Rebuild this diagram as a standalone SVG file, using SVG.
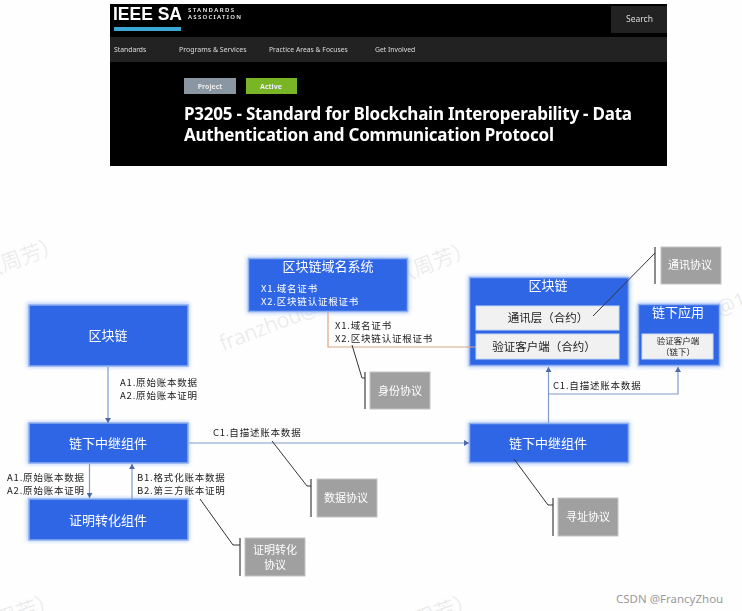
<svg xmlns="http://www.w3.org/2000/svg" width="742" height="611" viewBox="0 0 742 611">
<defs>
<filter id="glow" x="-15%" y="-30%" width="130%" height="160%"><feGaussianBlur stdDeviation="2"/></filter>
<filter id="soft" x="-5%" y="-5%" width="110%" height="110%"><feGaussianBlur stdDeviation="0.4"/></filter>
<marker id="arr" markerWidth="6" markerHeight="6" refX="5" refY="3" orient="auto" markerUnits="userSpaceOnUse"><path d="M0,0 L5,3 L0,6 Z" fill="#4a6ba8"/></marker>
</defs>
<style>
text{font-family:"Noto Sans CJK SC","Noto Sans",sans-serif}
.hd{font-family:"Noto Sans",sans-serif}
.wm{fill:#e8e8e8;font-size:21px;font-weight:300;font-family:"Noto Sans","Noto Sans CJK SC",sans-serif}
.b{fill:#2f66e6;stroke:#8fb0ee;stroke-width:1.5}
.gl{fill:#6f9cf5;opacity:.55}
.t{fill:#fff;text-anchor:middle;font-size:13px}
.i{fill:#f1f1f1;stroke:#c9d8f5;stroke-width:1}
.it{fill:#222;text-anchor:middle;font-size:11.5px}
.g{fill:#a0a0a0;stroke:#c4c4c4;stroke-width:1}
.gt{fill:#fff;text-anchor:middle;font-size:11px}
.l{fill:#222;font-size:9.5px;letter-spacing:.8px}
.c{fill:none;stroke:#7f9bcb;stroke-width:1.2}
.p{fill:none;stroke:#333;stroke-width:1}
.bar{fill:none;stroke:#666;stroke-width:1.5}
.s{filter:url(#soft)}
</style>
<rect width="742" height="611" fill="#fefefe"/>
<g id="watermarks">
<text class="wm" transform="translate(-16,279) rotate(-20)">（周芳）</text>
<text class="wm" transform="translate(223,351) rotate(-21)">franzhou@163.com（周芳）</text>
<text class="wm" transform="translate(640,347) rotate(-21)">franzhou@1</text>
<text class="wm" transform="translate(-20,635) rotate(-20)">（周芳）</text>
<text class="wm" transform="translate(398,635) rotate(-20)">（周芳）</text>
</g>
<g id="header" class="s">
<rect x="110" y="4" width="557" height="162" fill="#000"/>
<text x="113" y="20" font-size="18" font-weight="700" fill="#fff" textLength="69" lengthAdjust="spacingAndGlyphs" style="font-family:'Liberation Sans',sans-serif">IEEE SA</text>
<text class="hd" x="188" y="12" font-size="6" font-weight="600" fill="#eee" textLength="46">STANDARDS</text>
<text class="hd" x="188" y="19" font-size="6" font-weight="600" fill="#eee" textLength="53">ASSOCIATION</text>
<rect x="114" y="27" width="67" height="4" fill="#3aa8d4"/>
<rect x="611" y="6" width="56" height="27" fill="#222"/>
<text class="hd" x="626" y="22" font-size="8.5" fill="#ddd">Search</text>
<rect x="110" y="37" width="557" height="25" fill="#222"/>
<text class="hd" x="114" y="52" font-size="6.800" fill="#ddd">Standards</text>
<text class="hd" x="179" y="52" font-size="7" fill="#ddd">Programs &amp; Services</text>
<text class="hd" x="269" y="52" font-size="6.800" fill="#ddd">Practice Areas &amp; Focuses</text>
<text class="hd" x="375" y="52" font-size="6.800" fill="#ddd">Get Involved</text>
<rect x="184" y="78" width="52" height="16" fill="#8a97a3"/>
<rect x="246" y="78" width="51" height="16" fill="#7ab527"/>
<text class="hd" x="210" y="89" font-size="7" font-weight="700" fill="#e8e8e8" text-anchor="middle">Project</text>
<text class="hd" x="271" y="89" font-size="7" font-weight="700" fill="#eef" text-anchor="middle">Active</text>
<text class="hd" x="184" y="120" font-size="17" font-weight="700" fill="#fff" textLength="448">P3205 - Standard for Blockchain Interoperability - Data</text>
<text class="hd" x="184" y="141" font-size="17" font-weight="700" fill="#fff" textLength="370">Authentication and Communication Protocol</text>
</g>
<g id="n-chain" class="s">
<rect class="gl" x="27" y="303" width="162" height="64" filter="url(#glow)"/>
<rect class="b" x="29" y="305" width="159" height="61"/>
<text class="t" x="108" y="340">区块链</text>
</g>
<g id="n-relay-left" class="s">
<rect class="gl" x="27" y="422" width="162" height="42" filter="url(#glow)"/>
<rect class="b" x="29" y="423" width="159" height="40"/>
<text class="t" x="108" y="448">链下中继组件</text>
</g>
<g id="n-proof" class="s">
<rect class="gl" x="27" y="498" width="162" height="43" filter="url(#glow)"/>
<rect class="b" x="29" y="499" width="159" height="41"/>
<text class="t" x="108" y="525">证明转化组件</text>
</g>
<g id="n-dns" class="s">
<rect class="gl" x="247" y="257" width="162" height="56" filter="url(#glow)"/>
<rect class="b" x="248.500" y="258.500" width="159" height="53"/>
<text class="t" x="328" y="271">区块链域名系统</text>
<text x="261" y="292" font-size="9.500" fill="#fff" letter-spacing=".8">X1.域名证书</text>
<text x="261" y="305" font-size="9.500" fill="#fff" letter-spacing=".8">X2.区块链认证根证书</text>
</g>
<g id="n-chain-right" class="s">
<rect class="gl" x="468" y="276" width="162" height="91" filter="url(#glow)"/>
<rect class="b" x="469.500" y="277.500" width="159" height="88"/>
<text class="t" x="548" y="290">区块链</text>
<rect class="i" x="476" y="306" width="143" height="24"/>
<text class="it" x="548" y="322">通讯层（合约）</text>
<rect class="i" x="476" y="334" width="143" height="25"/>
<text class="it" x="544" y="351">验证客户端（合约）</text>
</g>
<g id="n-offchain-app" class="s">
<rect class="gl" x="637" y="303" width="84" height="64" filter="url(#glow)"/>
<rect class="b" x="638.500" y="304.500" width="81" height="61"/>
<text class="t" x="678" y="317">链下应用</text>
<rect class="i" x="642" y="334" width="71" height="25"/>
<text class="it" style="font-size:8.500px" x="678" y="344">验证客户端</text>
<text class="it" style="font-size:8.500px" x="678" y="355">（链下）</text>
</g>
<g id="n-relay-right" class="s">
<rect class="gl" x="468" y="422" width="162" height="42" filter="url(#glow)"/>
<rect class="b" x="469.500" y="423.500" width="159" height="39"/>
<text class="t" x="548" y="448">链下中继组件</text>
</g>
<g id="n-comm" class="s">
<path class="bar" d="M655,247V284"/>
<rect class="g" x="661" y="247" width="60" height="37"/>
<text class="gt" x="690" y="269">通讯协议</text>
</g>
<g id="n-identity" class="s">
<path class="bar" d="M365,372V409"/>
<rect class="g" x="370" y="372" width="60" height="37"/>
<text class="gt" x="400" y="395">身份协议</text>
</g>
<g id="n-data" class="s">
<path class="bar" d="M311,479V517"/>
<rect class="g" x="317" y="479" width="60" height="38"/>
<text class="gt" x="346" y="502">数据协议</text>
</g>
<g id="n-proof-protocol" class="s">
<path class="bar" d="M240,538V576"/>
<rect class="g" x="245" y="538" width="60" height="38"/>
<text class="gt" x="275" y="554">证明转化</text>
<text class="gt" x="275" y="569">协议</text>
</g>
<g id="n-address" class="s">
<path class="bar" d="M553,498V536"/>
<rect class="g" x="558" y="498" width="60" height="38"/>
<text class="gt" x="588" y="521">寻址协议</text>
</g>
<g id="connectors">
<path class="c" d="M108,367V423" marker-end="url(#arr)"/>
<path class="c" d="M89.500,464V498" marker-end="url(#arr)"/>
<path class="c" d="M132,499V464" marker-end="url(#arr)"/>
<path class="c" d="M189,443H469" marker-end="url(#arr)"/>
<path class="c" d="M548.500,423V367" marker-end="url(#arr)"/>
<path class="c" d="M548.500,394H678V367" marker-end="url(#arr)"/>
<path d="M328,312V347H476" fill="none" stroke="#d8a584" stroke-width="1.200"/>
<path class="p" d="M593,316L655,253"/>
<path class="p" d="M352,345L362,378H365"/>
<path class="p" d="M272,441L307,486H311"/>
<path class="p" d="M200,499L233,545H240"/>
<path class="p" d="M514,459L548,505H553"/>
</g>
<g id="labels" class="s">
<text class="l" x="120" y="386">A1.原始账本数据</text>
<text class="l" x="120" y="399">A2.原始账本证明</text>
<text class="l" x="335" y="329">X1.域名证书</text>
<text class="l" x="335" y="342">X2.区块链认证根证书</text>
<text class="l" x="7" y="481">A1.原始账本数据</text>
<text class="l" x="7" y="494">A2.原始账本证明</text>
<text class="l" x="137" y="481">B1.格式化账本数据</text>
<text class="l" x="137" y="494">B2.第三方账本证明</text>
<text class="l" x="213" y="436">C1.自描述账本数据</text>
<text class="l" x="553" y="389">C1.自描述账本数据</text>
</g>
<text x="616" y="603" font-size="11.500" fill="#9a9a9a" style="font-family:'Noto Sans',sans-serif">CSDN @FrancyZhou</text>
</svg>
